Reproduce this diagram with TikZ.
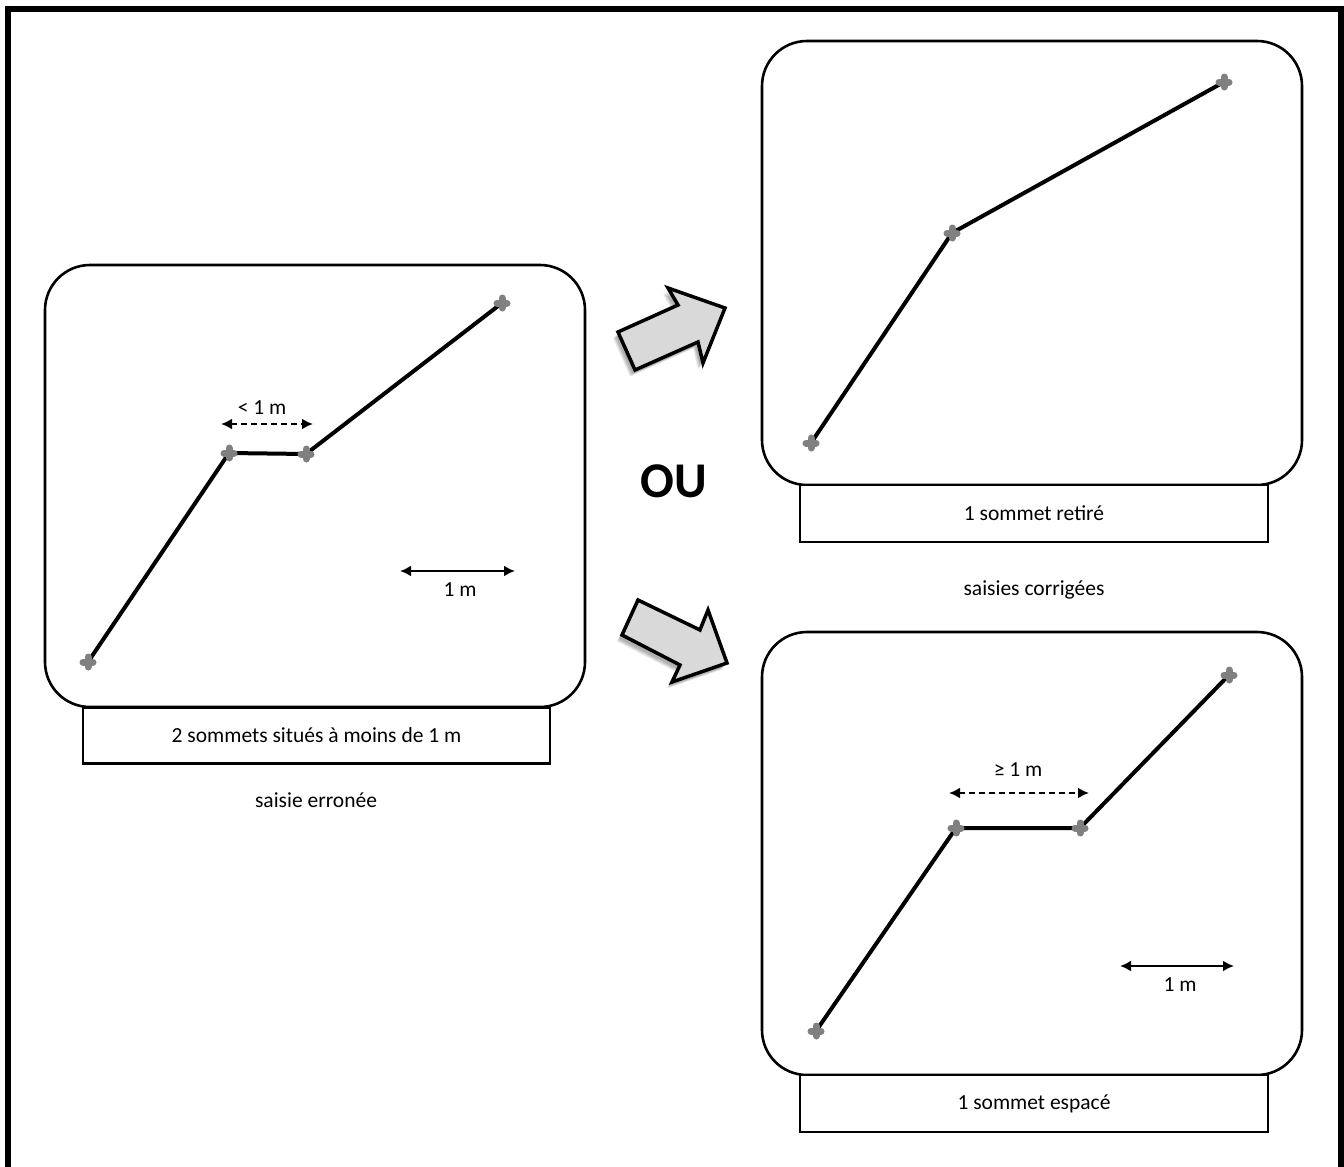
\documentclass[tikz,border=0pt]{standalone}
\usepackage{fontspec}
\setmainfont{Carlito}
\usetikzlibrary{arrows.meta}
\definecolor{vgray}{RGB}{128,128,128}
\definecolor{afill}{RGB}{217,217,217}
\tikzset{
  panel/.style={draw, line width=2.6pt, rounded corners=45pt},
  capbox/.style={draw, line width=2.6pt, fill=white},
  lbl/.style={font=\fontsize{21.5}{24}\selectfont, inner sep=0pt},
  trace/.style={line width=4pt},
  dimline/.style={line width=2.4pt, {Latex[length=11pt,width=11pt]}-{Latex[length=11pt,width=11pt]}},
  dashdim/.style={dimline, dash pattern=on 6pt off 4pt},
  bigarrow/.style={draw, fill=afill, line width=3.5pt, miter limit=10},
  vcross/.pic={\draw[vgray, line width=7pt, line cap=round] (-5,0)--(5,0) (0,-5)--(0,5);}
}
\begin{document}
\begin{tikzpicture}[x=1pt,y=-1pt]
\useasboundingbox (0,0) rectangle (1344,1167);
% outer frame
\draw[line width=6pt] (8,8.5) rectangle (1340.5,1185);

% ---------- left panel ----------
\draw[panel] (45,265) rectangle (585,707);
\node[capbox, minimum width=467pt, minimum height=56pt] (capL) at (316.5,735.5) {};
\node[lbl] (tL) at (capL) {2 sommets situés à moins de 1 m};
\node[lbl] (sL) at (316,800) {saisie erronée};
\coordinate (a1) at (88,662);
\coordinate (a2) at (229,453);
\coordinate (a3) at (306,454);
\coordinate (a4) at (502,303);
\draw[trace] (a1) -- (a2) -- (a3) -- (a4);
\foreach \p in {a1,a2,a3,a4} \path (\p) pic {vcross};
\coordinate (da1) at (221,424);
\coordinate (da2) at (313,424);
\draw[dashdim] (da1) -- (da2);
\node[lbl] (dtL) at (262,408) {< 1 m};
\coordinate (sa1) at (400,571);
\coordinate (sa2) at (515,571);
\draw[dimline] (sa1) -- (sa2);
\node[lbl] (stL) at (460,590) {1 m};

% ---------- top right panel ----------
\draw[panel] (762,41) rectangle (1302,485);
\node[capbox, minimum width=468pt, minimum height=57pt] (capT) at (1034,513.5) {};
\node[lbl] (tT) at (capT) {1 sommet retiré};
\node[lbl] (sT) at (1034,590) {saisies corrigées};
\coordinate (b1) at (811,443);
\coordinate (b2) at (952,233);
\coordinate (b3) at (1224,82);
\draw[trace] (b1) -- (b2) -- (b3);
\foreach \p in {b1,b2,b3} \path (\p) pic {vcross};

% ---------- bottom right panel ----------
\draw[panel] (762,632) rectangle (1302,1075);
\node[capbox, minimum width=468pt, minimum height=57pt] (capB) at (1034,1103.5) {};
\node[lbl] (tB) at (capB) {1 sommet espacé};
\coordinate (c1) at (816,1031);
\coordinate (c2) at (956,828);
\coordinate (c3) at (1080,828);
\coordinate (c4) at (1229,675);
\draw[trace] (c1) -- (c2) -- (c3) -- (c4);
\foreach \p in {c1,c2,c3,c4} \path (\p) pic {vcross};
\coordinate (db1) at (949,793);
\coordinate (db2) at (1089,793);
\draw[dashdim] (db1) -- (db2);
\node[lbl] (dtB) at (1018,770) {≥ 1 m};
\coordinate (sb1) at (1120,966);
\coordinate (sb2) at (1234,966);
\draw[dimline] (sb1) -- (sb2);
\node[lbl] (stB) at (1180,985) {1 m};

% ---------- OU ----------
\node[font=\fontsize{50}{56}\selectfont\bfseries, inner sep=0pt] (ou) at (674,481) {OU};

% ---------- big arrows ----------
\foreach \s in {1,...,5} {
  \fill[black, opacity=0.07, shift={(-2-\s*0.6,3+\s*0.7)}]
    (618,332) -- (678,305) -- (668,288) -- (725,308) -- (703,363) -- (698,342) -- (635,370) -- cycle;
  \fill[black, opacity=0.07, shift={(-2-\s*0.6,3+\s*0.7)}]
    (638,600) -- (700,630) -- (708,610) -- (727,663) -- (672,682) -- (680,665) -- (622,635) -- cycle;
}
\draw[bigarrow] (618,332) -- (678,305) -- (668,288) -- (725,308) -- (703,363) -- (698,342) -- (635,370) -- cycle;
\draw[bigarrow] (638,600) -- (700,630) -- (708,610) -- (727,663) -- (672,682) -- (680,665) -- (622,635) -- cycle;
\end{tikzpicture}
\end{document}
